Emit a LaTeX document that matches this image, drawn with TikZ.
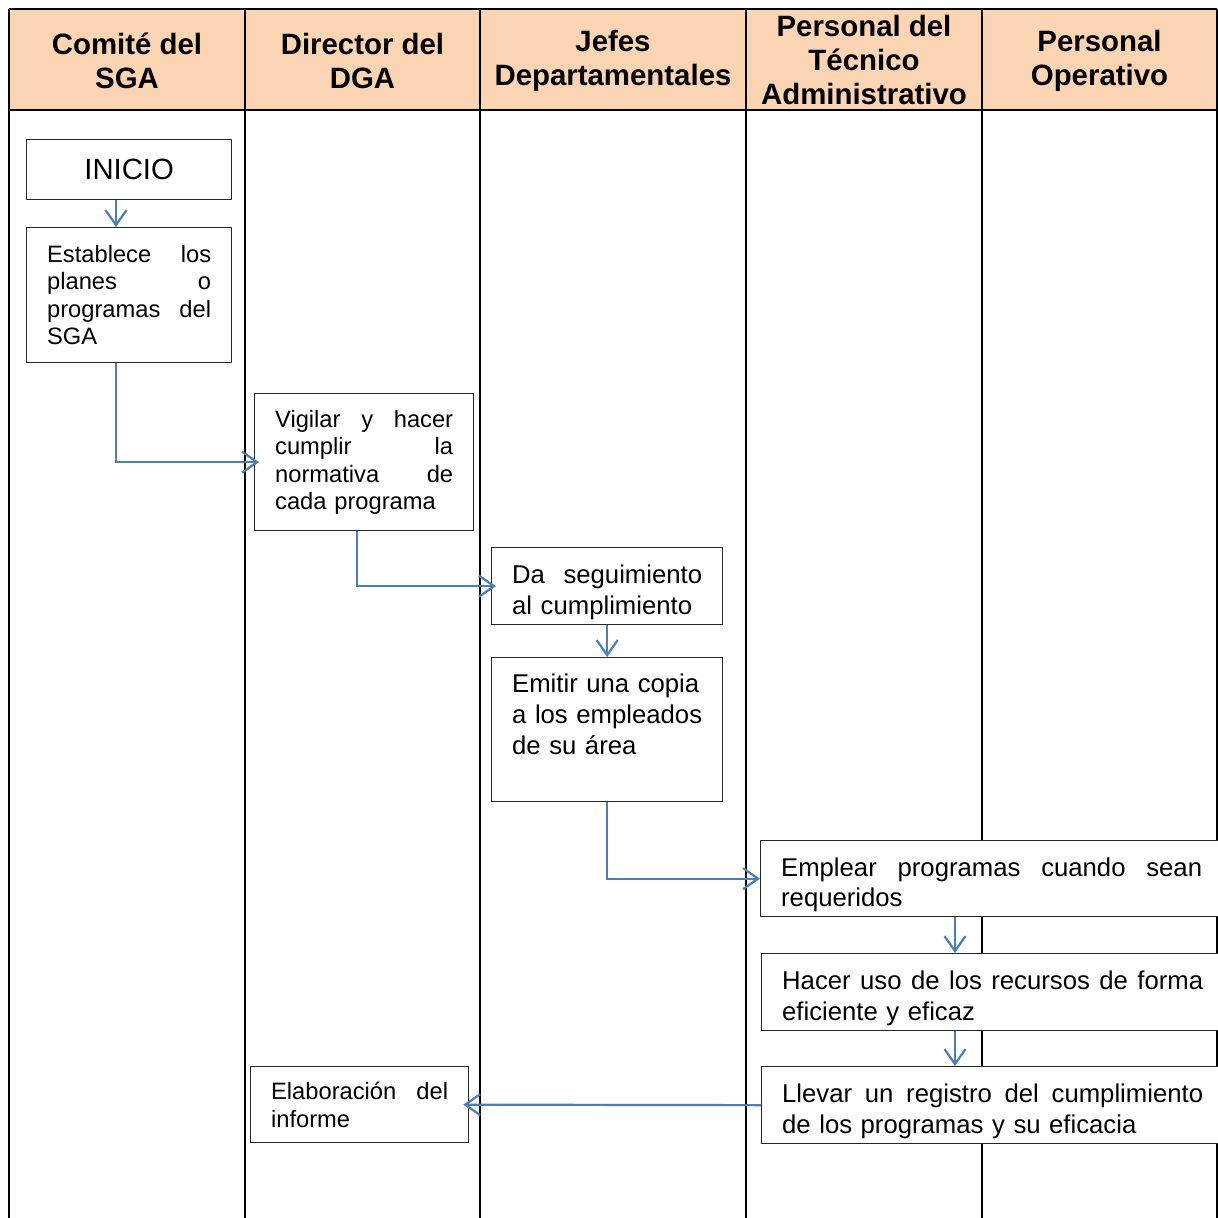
\documentclass[tikz,border=0pt]{standalone}
\usepackage{fontspec}
\setmainfont{Liberation Sans}
\usetikzlibrary{arrows.meta}
\definecolor{headfill}{HTML}{FBD4B4}
\definecolor{flowblue}{HTML}{4A7EBB}
% a justified line of given width (words separated by \hfill)
\newcommand\jl[2]{\leavevmode\hbox to #1{#2}}
% strut that lowers the first line of the two-line steps
\newcommand\lowstrut{\leavevmode\rule{0pt}{31pt}}
\begin{document}
\begin{tikzpicture}[x=1pt,y=-1pt,
  rule/.style={line width=2pt,black},
  head/.style={font=\fontsize{29.4}{34}\selectfont\bfseries,align=center},
  box/.style={draw=black!85,line width=1.3pt,fill=white,anchor=north west,
    inner xsep=20.5pt,inner ysep=0pt,align=left},
  small/.style={font=\fontsize{23.7}{27.5}\selectfont},
  large/.style={font=\fontsize{25.7}{30.8}\selectfont},
  flow/.style={draw=flowblue,line width=2.2pt,
    -{Straight Barb[length=15pt,width=21pt,line width=2.2pt]}}
]
\useasboundingbox (0,0) rectangle (1218,1218);
\fill[white] (0,0) rectangle (1218,1218);

% swimlane header and frame
\fill[headfill] (9,9) rectangle (1217,110);
\draw[rule] (9,9) -- (1217,9);
\draw[rule] (9,110) -- (1217,110);
\foreach \x in {9,245,480,746,982,1217}
  \draw[rule] (\x,9) -- (\x,1225);

\node[head] (h1) at (127,61) {Comité del\\SGA};
\node[head] (h2) at (362.5,61) {Director del\\DGA};
\node[head] (h3) at (613,61) {Jefes\\Departamentales};
\node[head] (h4) at (864,60) {Personal del\\Técnico\\Administrativo};
\node[head] (h5) at (1099.5,61) {Personal\\Operativo};

% process steps
\node[box,align=center,text width=164pt,minimum height=60pt,font=\fontsize{29.3}{34}\selectfont]
  (ini) at (26,139) {INICIO};
\node[box,small,text width=164pt,minimum height=135pt] (est) at (26,227)
  {\jl{164pt}{Establece\hfill los}\\ \jl{164pt}{planes\hfill o}\\
   \jl{164pt}{programas\hfill del}\\ SGA};
\node[box,small,text width=178pt,minimum height=137pt] (vig) at (254,393)
  {\jl{178pt}{Vigilar\hfill y\hfill hacer}\\ \jl{178pt}{cumplir\hfill la}\\
   \jl{178pt}{normativa\hfill de}\\ cada programa};
\node[box,large,text width=190pt,minimum height=77pt] (da) at (491,547)
  {\lowstrut\jl{190pt}{Da\hfill seguimiento}\\ al cumplimiento};
\node[box,large,text width=190pt,minimum height=144pt] (emi) at (491,657)
  {\mbox{Emitir una copia}\\ \mbox{a los empleados}\\ \mbox{de su área}\\ \mbox{}};
\node[box,large,text width=421pt,minimum height=76pt] (emp) at (760,840)
  {\lowstrut\jl{421pt}{Emplear\hfill programas\hfill cuando\hfill sean}\\ requeridos};
\node[box,large,text width=421pt,minimum height=77pt] (hac) at (761,953)
  {\lowstrut\jl{421pt}{Hacer\hfill uso\hfill de\hfill los\hfill recursos\hfill de\hfill forma}\\
   eficiente y eficaz};
\node[box,large,text width=421pt,minimum height=77pt] (lle) at (761,1066)
  {\lowstrut\jl{421pt}{Llevar\hfill un\hfill registro\hfill del\hfill cumplimiento}\\
   de los programas y su eficacia};
\node[box,small,text width=177pt,minimum height=76pt] (ela) at (250,1066)
  {\jl{177pt}{Elaboración\hfill del}\\ informe};

% flow connectors
\coordinate (c1) at (116,0);
\coordinate (c2) at (357,0);
\coordinate (c3) at (955,0);
\draw[flow] (ini.south -| c1) -- (est.north -| c1);
\draw[flow] (est.south -| c1) |- ([xshift=5pt]vig.west);
\draw[flow] (vig.south -| c2) |- ([xshift=5pt]da.west);
\draw[flow] (da.south) -- (emi.north);
\draw[flow] (emi.south) |- (emp.west);
\draw[flow] (emp.south -| c3) -- (hac.north -| c3);
\draw[flow] (hac.south -| c3) -- (lle.north -| c3);
\draw[flow] (lle.west) -- ([xshift=-6pt]ela.east);
\end{tikzpicture}
\end{document}
